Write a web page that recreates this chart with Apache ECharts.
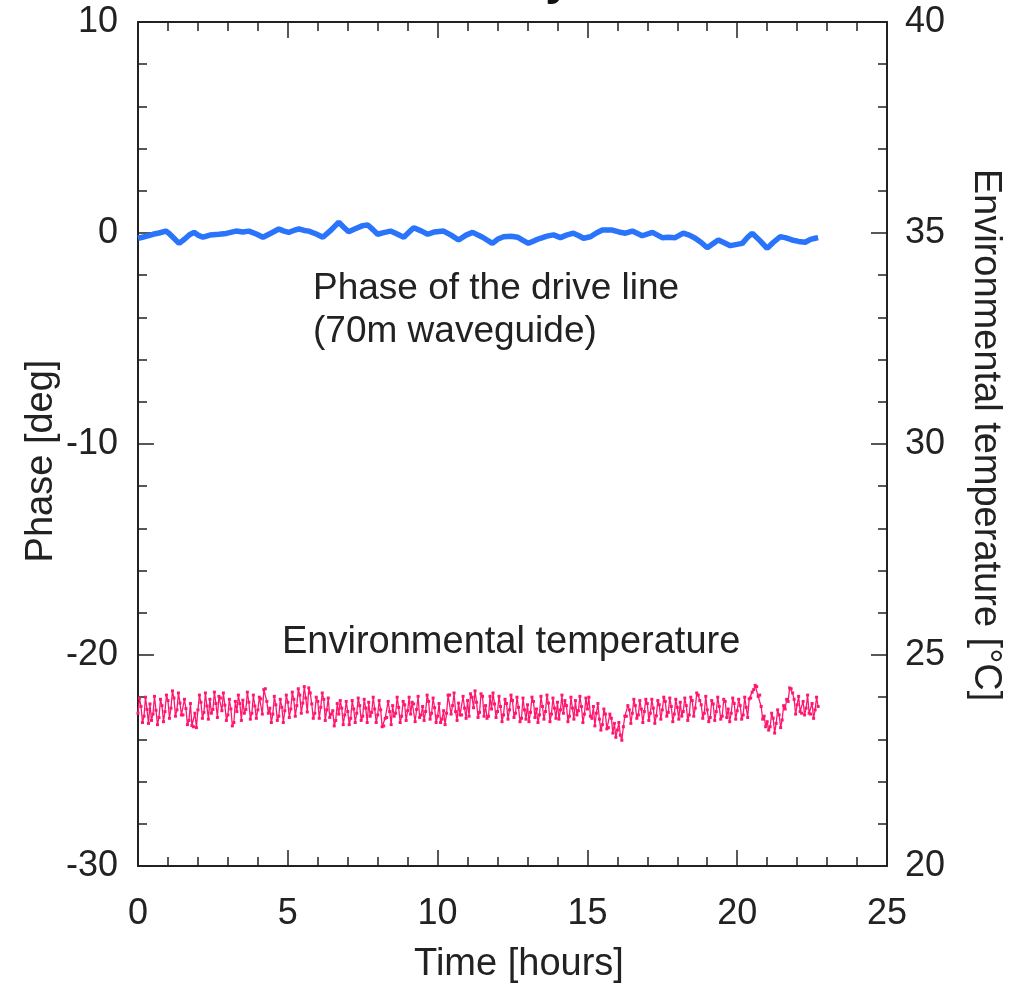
<!DOCTYPE html>
<html>
<head>
<meta charset="utf-8">
<title>Phase of the drive line</title>
<script src="https://cdn.jsdelivr.net/npm/echarts@6/dist/echarts.min.js"></script>
<style>
  html, body { margin: 0; padding: 0; background: #fff; overflow: hidden; }
  #chart { width: 1022px; height: 983px; }
</style>
</head>
<body>
<div id="chart"></div>
<script>
// Drive-line phase (deg) against time (hours)
const phaseTime = [0, 0.15, 0.3, 0.5, 0.7, 0.93, 1.03, 1.2, 1.37, 1.55, 1.72, 1.87, 2.0, 2.17, 2.4, 2.7, 2.95, 3.27, 3.5, 3.7, 3.95, 4.17, 4.45, 4.7, 4.85, 5.03, 5.2, 5.37, 5.55, 5.7, 5.95, 6.17, 6.45, 6.7, 6.85, 7.03, 7.25, 7.5, 7.67, 7.85, 8.0, 8.2, 8.43, 8.65, 8.87, 9.05, 9.2, 9.45, 9.67, 9.9, 10.2, 10.45, 10.7, 10.95, 11.17, 11.5, 11.83, 12.0, 12.2, 12.45, 12.67, 12.85, 13.03, 13.25, 13.43, 13.65, 13.87, 14.1, 14.3, 14.53, 14.7, 14.87, 15.1, 15.3, 15.5, 15.83, 16.05, 16.27, 16.5, 16.83, 17.17, 17.5, 17.7, 17.93, 18.2, 18.4, 18.6, 18.8, 19.0, 19.2, 19.37, 19.55, 19.77, 19.95, 20.17, 20.35, 20.5, 20.75, 21.0, 21.2, 21.43, 21.6, 21.83, 22.05, 22.27, 22.45, 22.6, 22.7];
const phaseDeg = [-0.25, -0.2, -0.15, -0.06, 0.0, 0.09, -0.01, -0.25, -0.49, -0.3, -0.08, 0.03, -0.1, -0.2, -0.1, -0.06, -0.02, 0.09, 0.05, 0.09, -0.05, -0.2, 0.0, 0.19, 0.1, 0.03, 0.12, 0.19, 0.12, 0.09, -0.05, -0.2, 0.15, 0.51, 0.3, 0.06, 0.2, 0.35, 0.38, 0.15, -0.06, 0.02, 0.09, -0.05, -0.2, 0.05, 0.25, 0.1, -0.06, 0.05, 0.09, -0.1, -0.33, -0.1, 0.03, -0.2, -0.49, -0.3, -0.18, -0.15, -0.2, -0.35, -0.49, -0.35, -0.25, -0.15, -0.09, -0.22, -0.1, -0.01, -0.12, -0.25, -0.18, 0.0, 0.14, 0.14, 0.05, -0.01, 0.09, -0.13, 0.03, -0.22, -0.2, -0.22, -0.01, -0.1, -0.25, -0.45, -0.7, -0.5, -0.33, -0.45, -0.6, -0.55, -0.49, -0.2, -0.01, -0.35, -0.73, -0.45, -0.18, -0.22, -0.33, -0.4, -0.44, -0.3, -0.25, -0.22];

// Environmental temperature (deg C): readings every 0.1 h from t = 0.00 ...
const tempStartA = 0;
const tempStep = 0.1;
const tempA = [
  23.62, 23.78, 23.55, 23.71, 23.84, 23.60, 23.69, 23.52, 23.80, 23.66,
  23.92, 23.74, 23.98, 23.70, 23.86, 23.58, 23.73, 23.45, 23.33, 23.62,
  23.70, 23.88, 23.64, 23.79, 23.95, 23.71, 23.85, 24.02, 23.68, 23.81,
  23.58, 23.72, 23.40, 23.66, 23.85, 23.93, 23.71, 23.88, 23.62, 23.79,
  23.70, 23.96, 24.18, 23.90, 23.74, 23.60, 23.82, 23.55, 23.76, 23.68,
  23.88, 23.72, 23.95, 23.80, 24.05, 23.86, 23.98, 24.22, 23.84, 23.62,
  23.90, 23.76, 23.95, 23.70, 23.52, 23.68, 23.45, 23.60, 23.74, 23.58,
  23.66, 23.50, 23.72, 23.62, 23.80, 23.55, 23.74, 23.88, 23.64, 23.72,
  23.58, 23.70, 23.32, 23.52, 23.66, 23.80, 23.62, 23.76, 23.55, 23.82,
  23.68, 23.60, 23.84, 23.71, 23.52, 23.78, 23.66, 23.90, 23.62, 23.75,
  23.55, 23.40, 23.68, 23.62, 24.05, 23.80, 23.66, 23.86, 23.58, 23.74,
  23.92, 24.08, 23.75, 23.88, 23.64, 24.02, 23.80, 23.55, 23.72, 23.84,
  23.66, 23.78, 23.58, 23.85, 23.70, 23.92, 23.62, 23.76, 23.50, 23.70,
  23.82, 23.64, 23.90, 23.72, 23.58, 23.78, 23.66, 23.86, 23.60, 23.74,
  23.88, 23.70, 23.62, 23.80, 23.55, 23.74, 23.92, 23.68, 23.78, 23.60,
  23.72, 23.55, 23.78, 23.62, 23.48, 23.35, 23.60, 23.28, 23.50, 23.38,
  23.22, 23.10, 23.30, 23.55, 23.70, 23.62, 23.80, 23.58, 23.72, 23.66,
  23.85, 23.62, 23.74, 23.56, 23.82, 23.70, 23.90, 23.64, 23.78, 23.60,
  23.76, 23.88, 23.66, 23.80, 23.58, 23.92, 23.74, 24.05, 23.82, 23.62,
  23.70, 23.52, 23.84, 23.66, 23.78, 23.55, 23.90, 23.72, 23.62, 23.85,
  23.68, 23.80, 23.58, 23.76, 23.96, 24.12, 24.28, 24.02, 23.78, 23.55,
  23.42, 23.30, 23.50, 23.38, 23.58, 23.46, 23.72, 23.90, 24.20, 23.95,
  23.82, 23.66, 23.90, 23.74, 23.62, 23.85, 23.70, 23.78
];
// ... and the interleaved readings every 0.1 h from t = 0.05
const tempStartB = 0.05;
const tempB = [
  23.98, 23.40, 24.00, 23.38, 23.45, 24.02, 23.35, 23.95, 23.42, 24.05,
  23.50, 24.15, 23.55, 24.10, 23.58, 23.95, 23.35, 23.85, 23.30, 23.28,
  24.05, 23.50, 24.10, 23.48, 23.62, 24.12, 23.52, 23.98, 24.10, 23.45,
  23.95, 23.32, 23.90, 24.05, 23.45, 23.62, 24.12, 23.48, 24.05, 23.50,
  24.00, 23.60, 24.20, 23.62, 23.40, 24.02, 23.45, 23.95, 23.40, 24.05,
  23.52, 24.12, 23.55, 24.20, 23.62, 24.25, 23.65, 24.10, 23.50, 24.00,
  23.50, 24.10, 23.45, 23.98, 23.60, 23.32, 23.85, 23.92, 23.35, 23.90,
  23.35, 23.92, 23.40, 23.98, 23.45, 23.95, 23.40, 23.55, 24.00, 23.40,
  23.92, 23.30, 23.50, 23.90, 23.35, 23.55, 24.00, 23.40, 23.90, 23.45,
  24.00, 23.88, 23.42, 24.02, 23.58, 23.45, 24.05, 23.48, 23.98, 23.40,
  23.85, 23.48, 23.35, 24.05, 23.60, 24.10, 23.45, 23.58, 24.02, 23.50,
  23.55, 24.00, 24.15, 23.52, 24.08, 23.55, 23.50, 24.02, 24.10, 23.52,
  24.02, 23.42, 23.95, 23.48, 24.05, 23.52, 24.00, 23.42, 23.98, 23.48,
  23.42, 24.00, 23.52, 23.40, 24.02, 23.48, 24.05, 23.42, 23.98, 23.50,
  23.48, 24.05, 23.92, 23.42, 24.00, 23.48, 23.58, 24.02, 23.40, 23.98,
  24.00, 23.50, 23.32, 23.85, 23.22, 23.72, 23.25, 23.60, 23.15, 23.05,
  23.40, 22.98, 23.55, 23.80, 23.38, 23.95, 23.50, 23.92, 23.40, 23.95,
  23.45, 23.95, 23.38, 23.92, 23.48, 24.00, 23.55, 23.98, 23.42, 23.95,
  23.48, 23.55, 23.98, 23.45, 24.00, 23.55, 24.10, 23.92, 23.50, 24.02,
  23.42, 23.92, 23.45, 24.00, 23.48, 23.95, 23.52, 23.42, 23.98, 23.48,
  23.95, 23.48, 24.00, 23.52, 23.98, 24.18, 24.25, 24.05, 23.48, 23.30,
  23.22, 23.62, 23.15, 23.70, 23.28, 23.80, 23.95, 24.22, 24.10, 23.60,
  24.02, 23.62, 23.58, 24.05, 23.60, 23.50, 24.00
];

// Axis ranges and tick spacing
const timeRange = [0, 25, 5];
const phaseRange = [-30, 10, 10];
const tempRange = [20, 40, 5];

const phaseData = phaseTime.map((t, i) => [t, phaseDeg[i]]);
const tempData = tempA.map((v, i) => [+(tempStartA + i * tempStep).toFixed(2), v])
  .concat(tempB.map((v, i) => [+(tempStartB + i * tempStep).toFixed(2), v]))
  .sort((p, q) => p[0] - q[0]);

const FONT = 'Liberation Sans, Arial, Helvetica, sans-serif';
const INK = '#222222';
const BLUE = '#2a74fb';
const PINK = '#ff176f';

const lineStyle = { color: INK, width: 2 };
const tickStyle = { color: INK, width: 1.5 };
const labelStyle = { color: INK, fontFamily: FONT, fontSize: 36 };
const titleFont = { fill: INK, fontFamily: FONT, fontSize: 38, align: 'center', verticalAlign: 'middle' };

function timeAxis(position, show) {
  return {
    type: 'value', position: position,
    min: timeRange[0], max: timeRange[1], interval: timeRange[2],
    axisLine: { show: true, onZero: false, lineStyle: lineStyle },
    axisTick: { show: true, inside: true, length: 16, lineStyle: tickStyle },
    minorTick: { show: true, splitNumber: 5, length: 9, lineStyle: tickStyle },
    axisLabel: show ? Object.assign({ margin: 30 }, labelStyle) : { show: false },
    splitLine: { show: false }
  };
}

function valueAxis(position, range, margin) {
  return {
    type: 'value', position: position,
    min: range[0], max: range[1], interval: range[2],
    axisLine: { show: true, onZero: false, lineStyle: lineStyle },
    axisTick: { show: true, inside: true, length: 16, lineStyle: tickStyle },
    minorTick: { show: true, splitNumber: 5, length: 9, lineStyle: tickStyle },
    axisLabel: Object.assign({ margin: margin }, labelStyle),
    splitLine: { show: false }
  };
}

const chart = echarts.init(document.getElementById('chart'), null, { renderer: 'canvas' });
chart.setOption({
  backgroundColor: '#ffffff',
  animation: false,
  grid: { left: 138, right: 135, top: 22, bottom: 117, containLabel: false },
  xAxis: [timeAxis('bottom', true), timeAxis('top', false)],
  yAxis: [valueAxis('left', phaseRange, 20), valueAxis('right', tempRange, 18)],
  series: [
    {
      name: 'Phase', type: 'line', xAxisIndex: 0, yAxisIndex: 0,
      data: phaseData, showSymbol: false, smooth: false,
      lineStyle: { color: BLUE, width: 5.5 }
    },
    {
      name: 'Temperature', type: 'line', xAxisIndex: 0, yAxisIndex: 1,
      data: tempData, showSymbol: true, symbol: 'rect', symbolSize: 3,
      itemStyle: { color: PINK },
      lineStyle: { color: PINK, width: 1.3 }
    }
  ],
  graphic: [
    // heading, running off the top edge of the page
    { type: 'text', x: 572, y: 5,
      style: { text: 'Phase stability', fill: '#111', fontFamily: FONT, fontSize: 48, fontWeight: 'bold',
               align: 'right', verticalAlign: 'bottom' } },
    // axis titles
    { type: 'text', x: 519, y: 965, style: Object.assign({ text: 'Time [hours]' }, titleFont) },
    { type: 'text', x: 42, y: 461, rotation: Math.PI / 2, style: Object.assign({ text: 'Phase [deg]' }, titleFont) },
    { type: 'text', x: 985, y: 435, rotation: -Math.PI / 2, style: Object.assign({ text: 'Environmental temperature [\u00B0C]' }, titleFont) },
    // curve annotations
    { type: 'text', left: 313, top: 267,
      style: { text: 'Phase of the drive line\n(70m waveguide)', fill: INK, fontFamily: FONT, fontSize: 37, lineHeight: 43 } },
    { type: 'text', left: 282, top: 624,
      style: { text: 'Environmental temperature', fill: INK, fontFamily: FONT, fontSize: 38 } }
  ]
});
</script>
</body>
</html>
